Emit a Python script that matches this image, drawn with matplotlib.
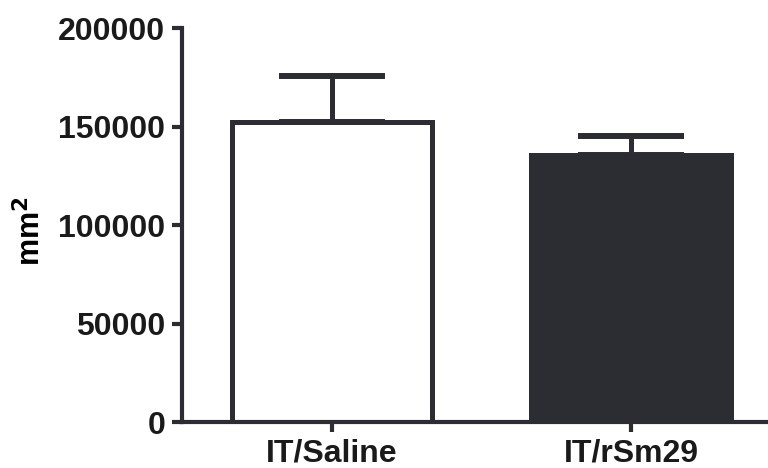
import matplotlib
matplotlib.use("Agg")
import matplotlib.pyplot as plt
import numpy as np

groups = ["IT/Saline", "IT/rSm29"]
means = [152300, 135800]
sem = [23400, 9400]
fills = ["white", "#2b2d33"]
yticks = [0, 50000, 100000, 150000, 200000]

ink = "#2b2d33"
plt.rcParams["font.family"] = ["Liberation Sans", "DejaVu Sans"]
plt.rcParams["font.weight"] = "bold"

fig = plt.figure(figsize=(7.68, 4.68), dpi=100)
ax = fig.add_axes([0.237, 0.098, 0.763, 0.842])

x = np.arange(len(groups))
# error bars first so the bars hide the lower half
ax.errorbar(x, means, yerr=[[0] * len(sem), sem], fmt="none", ecolor=ink,
            elinewidth=3.6, capsize=38, capthick=4.3, zorder=1)
ax.bar(x, means, width=0.67, color=fills, edgecolor=ink, linewidth=3.6, zorder=2)

ax.set_xlim(-0.502, 1.458)
ax.set_ylim(0, 200000)
ax.set_yticks(yticks)
ax.set_yticklabels([str(t) for t in yticks])
ax.set_xticks(x)
ax.set_xticklabels(groups)

for side in ["top", "right"]:
    ax.spines[side].set_visible(False)
for side in ["left", "bottom"]:
    ax.spines[side].set_linewidth(3)
    ax.spines[side].set_color(ink)
ax.tick_params(axis="both", direction="out", length=7, width=3, color=ink,
               labelsize=23, labelcolor="#1a1a1a", pad=5)
ax.set_ylabel("mm$^\\mathbf{2}$", fontsize=22, fontweight="bold")
ax.yaxis.set_label_coords(-0.230, 0.485)

plt.savefig("out.png", dpi=100)
